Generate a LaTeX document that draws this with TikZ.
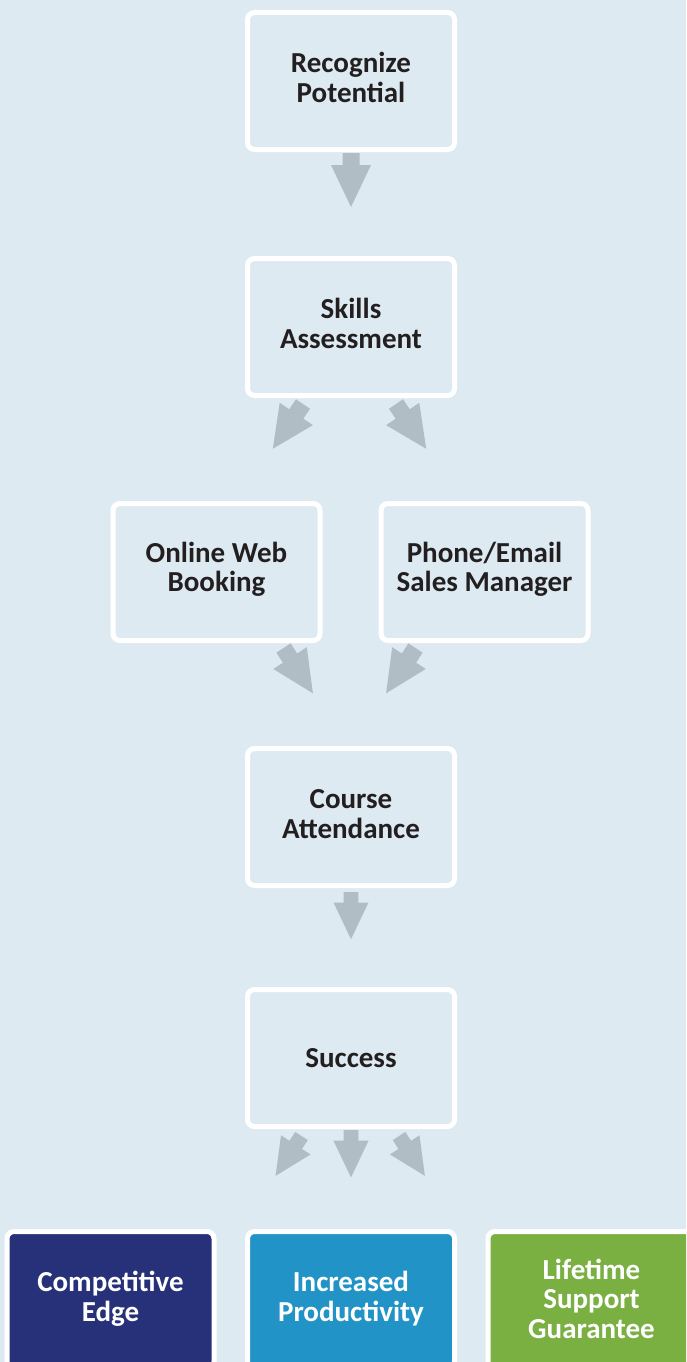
\documentclass[tikz,border=0pt]{standalone}
\usepackage{fontspec}
\setmainfont{Carlito}
\usetikzlibrary{calc}
\definecolor{bg}{RGB}{221,234,242}
\definecolor{arrowgray}{RGB}{176,189,197}
\definecolor{txt}{RGB}{35,31,32}
\definecolor{navy}{RGB}{38,49,121}
\definecolor{midblue}{RGB}{33,147,198}
\definecolor{leaf}{RGB}{122,175,66}
\newcommand\blockarrow[3]{\fill[arrowgray, shift={(#1)}, rotate=#2, scale=#3] (-8.5,0) -- (8.5,0) -- (8.5,12) -- (20,12) -- (0,54) -- (-20,12) -- (-8.5,12) -- cycle;}
\begin{document}
\begin{tikzpicture}[x=1pt,y=-1pt,
  stepbox/.style={draw=white, line width=5pt, rounded corners=7pt, fill=bg,
    minimum width=207pt, minimum height=137pt, inner sep=0pt, align=center,
    text=txt, font=\fontsize{29}{29.5}\selectfont\bfseries},
  outbox/.style={stepbox, text=white}]
\useasboundingbox (0,0) rectangle (686,1362);
\clip (0,0) rectangle (686,1362);
\fill[bg] (0,0) rectangle (686,1362);

\node[stepbox, text depth=7pt] (b1) at (351,81) {Recognize\\Potential};
\node[stepbox, text depth=7pt] (b2) at (351,327) {Skills\\Assessment};
\node[stepbox, text depth=10.5pt] (b3l) at (216.5,572) {Online Web\\Booking};
\node[stepbox, text depth=10.5pt] (b3r) at (484.5,572) {Phone/Email\\Sales Manager};
\node[stepbox, text depth=6pt] (b4) at (351,817) {Course\\Attendance};
\node[stepbox] (b5) at (351,1058) {Success};
\node[outbox, fill=navy, text depth=7pt] (c1) at (110.5,1300) {Competitive\\Edge};
\node[outbox, fill=midblue, text depth=7pt] (c2) at (351,1300) {Increased\\Productivity};
\node[outbox, fill=leaf, text depth=3pt] (c3) at (591.5,1300) {Lifetime\\Support\\Guarantee};

\coordinate (t1) at ($(b1.south)+(0,1)$);
\coordinate (t2l) at ($(b2.south)+(-48,6)$);
\coordinate (t2r) at ($(b2.south)+(45,6)$);
\coordinate (t3l) at ($(b3l.south)+(67,5)$);
\coordinate (t3r) at ($(b3r.south)+(-69,5)$);
\coordinate (t4) at ($(b4.south)+(0,4)$);
\coordinate (t5m) at ($(b5.south)+(0,1)$);
\coordinate (t5l) at ($(b5.south)+(-49.5,7)$);
\coordinate (t5r) at ($(b5.south)+(48,7)$);

\blockarrow{t1}{0}{1}
\blockarrow{t2l}{-34}{1}
\blockarrow{t2r}{34}{1}
\blockarrow{t3l}{33}{1}
\blockarrow{t3r}{-33}{1}
\blockarrow{t4}{0}{0.875}
\blockarrow{t5m}{0}{0.88}
\blockarrow{t5l}{-33}{0.88}
\blockarrow{t5r}{33}{0.88}
\end{tikzpicture}
\end{document}
